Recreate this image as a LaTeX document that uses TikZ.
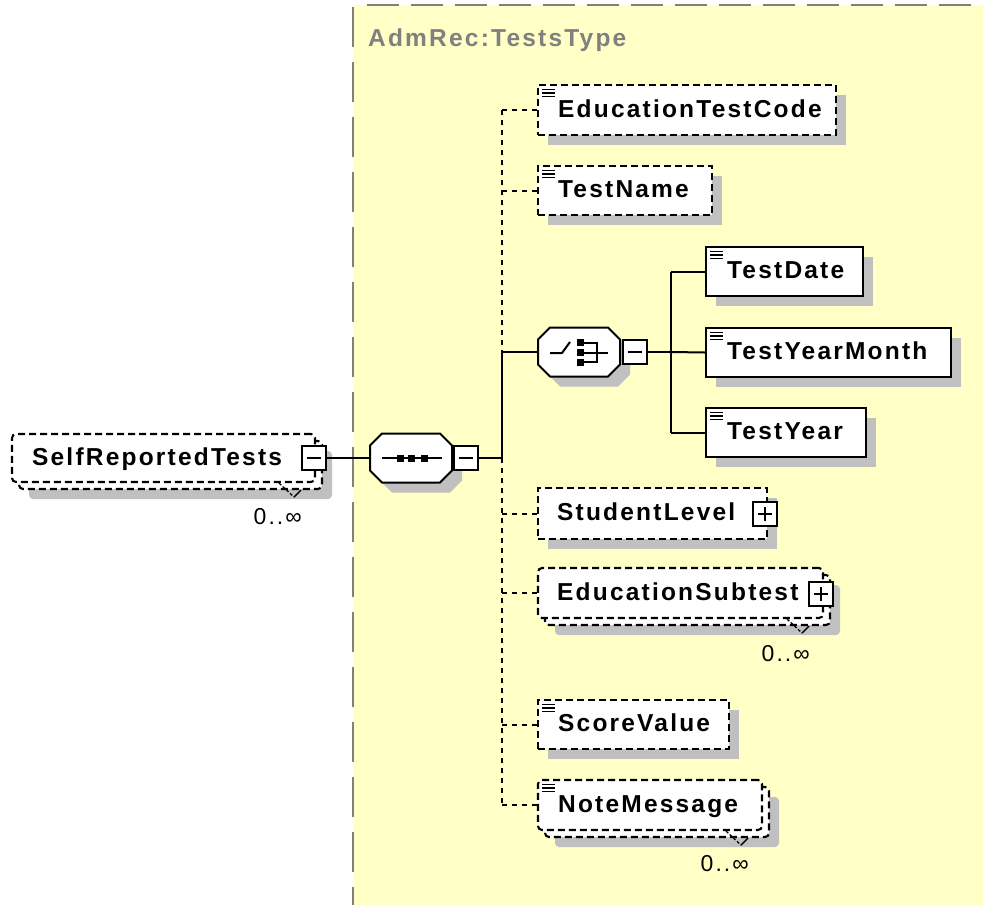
\documentclass[tikz,border=0pt]{standalone}
\usepackage{fontspec}
\setmainfont{Liberation Sans}
\newfontfamily\lblfont[LetterSpace=9]{Liberation Sans}
\usetikzlibrary{calc,shadows}
\definecolor{bgyellow}{RGB}{255,255,198}
\definecolor{shadowgray}{RGB}{192,192,192}
\definecolor{framegray}{RGB}{128,128,128}
\newcommand\docicon[1]{%
  \draw[line width=1.5pt] ($(#1.north west)+(5,5.5)$) -- ++(13,0)
    ($(#1.north west)+(5,9)$) -- ++(13,0)
    ($(#1.north west)+(5,12.5)$) -- ++(13,0);}
\newcommand\octo[3]{%
  \path[#1] (#2-29,#3-24.5) -- (#2+29,#3-24.5) -- (#2+41,#3-12.5) -- (#2+41,#3+12.5)
    -- (#2+29,#3+24.5) -- (#2-29,#3+24.5) -- (#2-41,#3+12.5) -- (#2-41,#3-12.5) -- cycle;}
\newcommand\notch[1]{%
  \draw[line width=1.3pt, dash pattern=on 3pt off 2pt] ($(#1.south east)+(-44,-7)$) -- ($(#1.south east)+(-29,7)$);
  \draw[line width=1.3pt] ($(#1.south east)+(-29,7)$) -- ($(#1.south east)+(-22,0)$);}
\begin{document}
\begin{tikzpicture}[x=1pt,y=-1pt,
  elembox/.style={draw=black, line width=2.1pt, fill=white, inner sep=0pt, anchor=center},
  optbox/.style={elembox, dash pattern=on 7pt off 4pt},
  shad/.style={drop shadow={shadow xshift=10pt, shadow yshift=-10pt, fill=shadowgray, opacity=1}},
  lbl/.style={font=\lblfont\bfseries\fontsize{24.5pt}{28pt}\selectfont, inner sep=0pt, anchor=base west},
  mult/.style={font=\lblfont\fontsize{23pt}{27pt}\selectfont, inner sep=0pt, anchor=base east},
  compo/.style={draw=none, minimum width=82pt, minimum height=49pt, inner sep=0pt},
  expbox/.style={draw=black, fill=white, line width=2pt, minimum size=24pt, inner sep=0pt},
  expminus/.style={expbox, path picture={\draw[line width=2pt] ($(path picture bounding box.west)+(5,0)$) -- ($(path picture bounding box.east)+(-5,0)$);}},
  expplus/.style={expbox, path picture={\draw[line width=2pt] ($(path picture bounding box.west)+(5,0)$) -- ($(path picture bounding box.east)+(-5,0)$) ($(path picture bounding box.north)+(0,5)$) -- ($(path picture bounding box.south)+(0,-5)$);}},
  conn/.style={draw=black, line width=2pt},
  dconn/.style={conn, dash pattern=on 5pt off 5pt}
]
\useasboundingbox (0,0) rectangle (983,905);
% type area
\fill[bgyellow] (353,5) rectangle (983,905);
\draw[framegray, line width=2.5pt, dash pattern=on 40pt off 15pt] (353,7) -- (353,905);
\draw[framegray, line width=2.5pt, dash pattern=on 32pt off 12pt] (367,5) -- (983,5);
\node[lbl, text=framegray] (title) at (368,46) {AdmRec:TestsType};

% SelfReportedTests (0..inf)
\node[optbox, shad, rounded corners=4pt, minimum width=303pt, minimum height=48pt] (srtback) at (170.5,465) {};
\node[optbox, rounded corners=4pt, minimum width=303pt, minimum height=48pt] (srt) at (163.5,458) {};
\node[lbl] (srtt) at ($(srt.west)+(21,7)$) {SelfReportedTests};
\node[expminus] (srtexp) at (313.5,458) {};
\notch{srtback}
\node[mult] (srtm) at ($(srtback.south east)+(-21,34)$) {0..∞};

% sequence compositor
\octo{fill=shadowgray, shift={(10,10)}}{411}{458}
\octo{draw=black, fill=white, line width=2pt}{411}{458}
\node[compo] (seq) at (411,458) {};
\draw[line width=2pt] ($(seq)+(-29,0)$) -- ($(seq)+(31,0)$);
\fill ($(seq)+(-14.5,-3.5)$) rectangle ++(7,7);
\fill ($(seq)+(-3.5,-3.5)$) rectangle ++(7,7);
\fill ($(seq)+(10,-3.5)$) rectangle ++(7,7);
\node[expminus] (seqexp) at (465.5,458) {};

% choice compositor
\octo{fill=shadowgray, shift={(10,10)}}{579}{352}
\octo{draw=black, fill=white, line width=2pt}{579}{352}
\node[compo] (cho) at (579,352) {};
\draw[line width=2pt] ($(cho)+(-29,1)$) -- ($(cho)+(-17,1)$) -- ($(cho)+(-9,-10)$);
\fill ($(cho)+(-2.5,-13)$) rectangle ++(7,7);
\fill ($(cho)+(-2.5,-3)$) rectangle ++(7,7);
\fill ($(cho)+(-2.5,6.5)$) rectangle ++(7,7);
\draw[line width=2pt] ($(cho)+(1,-9.5)$) -- ($(cho)+(18,-9.5)$) -- ($(cho)+(18,10)$) -- ($(cho)+(1,10)$);
\draw[line width=2pt] ($(cho)+(4,1)$) -- ($(cho)+(29,1)$);
\node[expminus] (choexp) at (634.5,352) {};

% sequence children
\node[optbox, shad, minimum width=298pt, minimum height=50pt] (etc) at (687,110) {};
\node[lbl] (etct) at ($(etc.west)+(21,7)$) {EducationTestCode};
\docicon{etc}

\node[optbox, shad, minimum width=174pt, minimum height=49pt] (tn) at (625,190.5) {};
\node[lbl] (tnt) at ($(tn.west)+(21,7)$) {TestName};
\docicon{tn}

\node[optbox, shad, minimum width=229pt, minimum height=51pt] (sl) at (652.5,513.5) {};
\node[lbl] (slt) at ($(sl.west)+(20,7)$) {StudentLevel};
\node[expplus] (slexp) at (765,514) {};

\node[optbox, shad, rounded corners=4pt, minimum width=285pt, minimum height=50pt] (esback) at (687.5,600) {};
\node[optbox, rounded corners=4pt, minimum width=285pt, minimum height=50pt] (es) at (680.5,593) {};
\node[lbl] (est) at ($(es.west)+(20,7)$) {EducationSubtest};
\node[expplus] (esexp) at (820.5,594) {};
\notch{esback}
\node[mult] (esm) at ($(esback.south east)+(-21,35)$) {0..∞};

\node[optbox, shad, minimum width=191pt, minimum height=49pt] (sv) at (633.5,724.5) {};
\node[lbl] (svt) at ($(sv.west)+(21,7)$) {ScoreValue};
\docicon{sv}

\node[optbox, shad, rounded corners=4pt, minimum width=224pt, minimum height=50pt] (nmback) at (657,812) {};
\node[optbox, rounded corners=4pt, minimum width=224pt, minimum height=50pt] (nm) at (650,805) {};
\node[lbl] (nmt) at ($(nm.west)+(21,7)$) {NoteMessage};
\docicon{nm}
\notch{nmback}
\node[mult] (nmm) at ($(nmback.south east)+(-21,33)$) {0..∞};

% choice children
\node[elembox, shad, minimum width=157pt, minimum height=49pt] (td) at (784.5,271.5) {};
\node[lbl] (tdt) at ($(td.west)+(22,7)$) {TestDate};
\docicon{td}
\node[elembox, shad, minimum width=245pt, minimum height=49pt] (tym) at (828.5,352.5) {};
\node[lbl] (tymt) at ($(tym.west)+(22,7)$) {TestYearMonth};
\docicon{tym}
\node[elembox, shad, minimum width=160pt, minimum height=49pt] (ty) at (786,432.5) {};
\node[lbl] (tyt) at ($(ty.west)+(22,7)$) {TestYear};
\docicon{ty}

% connectors
\coordinate (trunk) at (502,458);
\coordinate (ctrunk) at (671,352);
\draw[conn] (srtexp.east) -- (seq.west);
\draw[conn] (seqexp.east) -- (trunk);
\draw[dconn] (etc.west -| trunk) -- (cho.west -| trunk);
\draw[conn] (cho.west -| trunk) -- (trunk);
\draw[dconn] (trunk) -- (nm.west -| trunk);
\draw[dconn] (etc.west -| trunk) -- (etc.west);
\draw[dconn] (tn.west -| trunk) -- (tn.west);
\draw[conn] (cho.west -| trunk) -- (cho.west);
\draw[dconn] (sl.west -| trunk) -- (sl.west);
\draw[dconn] (es.west -| trunk) -- (es.west);
\draw[dconn] (sv.west -| trunk) -- (sv.west);
\draw[dconn] (nm.west -| trunk) -- (nm.west);
\draw[conn] (choexp.east) -- (ctrunk);
\draw[conn] (td.west -| ctrunk) -- (ty.west -| ctrunk);
\draw[conn] (td.west -| ctrunk) -- (td.west);
\draw[conn] (ctrunk) -- (tym.west);
\draw[conn] (ty.west -| ctrunk) -- (ty.west);
\end{tikzpicture}
\end{document}
